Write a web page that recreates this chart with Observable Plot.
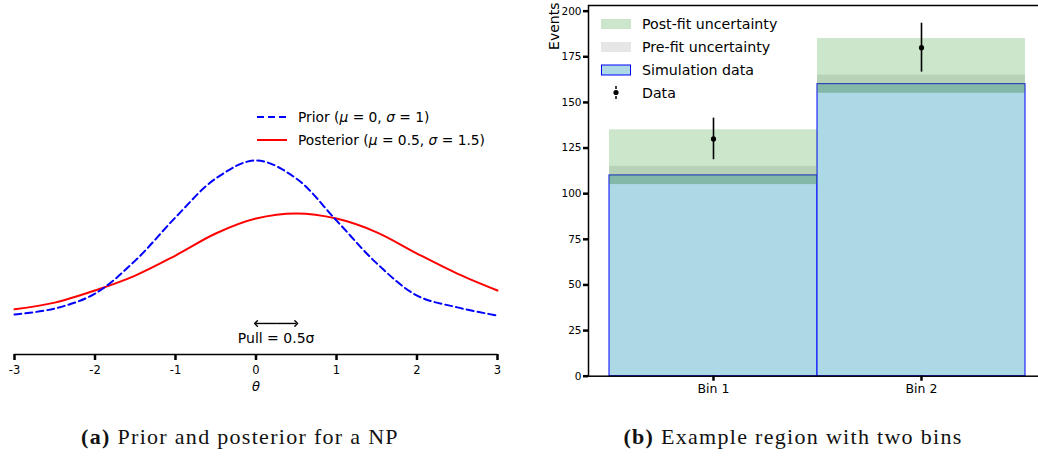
<!DOCTYPE html>
<html><head><meta charset="utf-8">
<script src="https://cdn.jsdelivr.net/npm/d3@7"></script>
<script src="https://cdn.jsdelivr.net/npm/@observablehq/plot@0.6"></script>
<style>
html,body{margin:0;padding:0;background:#fff;overflow:hidden;width:1038px;height:460px}
#fig{position:relative;width:1038px;height:460px;overflow:hidden}
.panel{position:absolute;top:0}
.leg{position:absolute;font-family:"DejaVu Sans",sans-serif;color:#000;white-space:nowrap;line-height:16px}
.leg svg{position:absolute;left:0;top:0;overflow:visible}
.cap{position:absolute;font-family:"Liberation Serif",serif;font-size:22px;letter-spacing:1.3px;color:#111;white-space:nowrap;line-height:22px;transform:translateX(-50%)}
</style></head>
<body><div id="fig"></div>
<script>
// ---- Panel (a) data ----
const theta = [-3, -2.5, -2, -1.5, -1, -0.5, 0, 0.5, 1, 1.5, 2, 2.5, 3];
const prior = [0.007, 0.022, 0.060, 0.144, 0.254, 0.353, 0.399, 0.353, 0.246, 0.137, 0.055, 0.025, 0.004];
const posterior = [0.020, 0.037, 0.068, 0.106, 0.157, 0.213, 0.251, 0.264, 0.251, 0.216, 0.162, 0.111, 0.068];
const thetaTicks = [-3, -2, -1, 0, 1, 2, 3];
const pullFrom = 0, pullTo = 0.5;
const pullLabel = "Pull = 0.5σ";
const priorLabel = "Prior";
const posteriorLabel = "Posterior";

// ---- Panel (b) data ----
const bins = ["Bin 1", "Bin 2"];
const simulation = [110, 160];
const prefitLow = [105, 155];
const prefitHigh = [115, 165];
const postfitLow = [105, 155];
const postfitHigh = [135, 185];
const observed = [130, 180];
const observedErr = [11.4, 13.4];
const eventTicks = [0, 25, 50, 75, 100, 125, 150, 175, 200];

const fig = document.getElementById("fig");
const sans = '"DejaVu Sans", sans-serif';

// ---------- Panel (a) ----------
const priorRows = theta.map((t, i) => ({theta: t, p: prior[i]}));
const postRows = theta.map((t, i) => ({theta: t, p: posterior[i]}));
const yAxisLevel = -0.095;
const pullMid = (pullFrom + pullTo) / 2;
const pullArrows = [{a: pullMid, b: pullFrom}, {a: pullMid, b: pullTo}];

const left = Plot.plot({
  width: 520, height: 400,
  marginLeft: 14, marginRight: 23, marginTop: 81, marginBottom: 46,
  x: {domain: [-3, 3]},
  y: {domain: [yAxisLevel, 0.6], axis: null},
  style: {fontFamily: sans, fontSize: "11px", color: "#000", background: "transparent"},
  marks: [
    Plot.ruleY([yAxisLevel], {stroke: "#000", strokeWidth: 1.5}),
    Plot.axisX({ticks: thetaTicks, tickFormat: d => String(d), tickSize: 6, strokeWidth: 2.5, tickPadding: 5, fontSize: 11.5, label: null}),
    Plot.text(["θ"], {x: [0], frameAnchor: "bottom", dy: 36, fontSize: 13, fontStyle: "italic"}),
    Plot.line(postRows, {x: "theta", y: "p", stroke: "red", strokeWidth: 2, curve: "catmull-rom"}),
    Plot.line(priorRows, {x: "theta", y: "p", stroke: "blue", strokeWidth: 2, strokeDasharray: "7,4", curve: "catmull-rom"}),
    Plot.link(pullArrows, {x1: "a", x2: "b", y1: () => -0.016, y2: () => -0.016, stroke: "#000", strokeWidth: 1.4, markerEnd: "arrow"}),
    Plot.text([pullLabel], {x: [pullMid], y: [-0.054], fontSize: 14, text: d => d})
  ]
});
left.classList.add("panel");
left.style.left = "0px";
fig.appendChild(left);

// left legend
const legA = document.createElement("div");
legA.className = "leg";
legA.style.fontSize = "13.8px";
legA.style.left = "257px"; legA.style.top = "108px";
legA.style.width = "260px"; legA.style.height = "40px";
legA.innerHTML = `
<svg width="32" height="40"><line x1="0" x2="30" y1="9" y2="9" stroke="blue" stroke-width="2" stroke-dasharray="7,4"/>
<line x1="0" x2="30" y1="32" y2="32" stroke="red" stroke-width="2"/></svg>
<div style="position:absolute;left:41px;top:1px">${priorLabel} (<i>μ</i> = 0, <i>σ</i> = 1)</div>
<div style="position:absolute;left:41px;top:24px">${posteriorLabel} (<i>μ</i> = 0.5, <i>σ</i> = 1.5)</div>`;
fig.appendChild(legA);

// ---------- Panel (b) ----------
const rows = bins.map((b, i) => ({
  bin: b, sim: simulation[i], preLow: prefitLow[i], preHigh: prefitHigh[i],
  postLow: postfitLow[i], postHigh: postfitHigh[i], obs: observed[i], err: observedErr[i]
}));

const right = Plot.plot({
  width: 516, height: 400,
  marginLeft: 58, marginRight: 0, marginTop: 5, marginBottom: 24.3,
  x: {type: "band", domain: bins, paddingInner: 0, paddingOuter: 0.1},
  y: {domain: [0, 203.1]},
  style: {fontFamily: sans, fontSize: "10px", color: "#000", background: "transparent"},
  marks: [
    Plot.barY(rows, {x: "bin", y1: 0, y2: "sim", fill: "lightblue", stroke: "blue", strokeWidth: 1, insetLeft: 0, insetRight: 0}),
    Plot.barY(rows, {x: "bin", y1: "preLow", y2: "preHigh", fill: "grey", fillOpacity: 0.2, insetLeft: 0, insetRight: 0}),
    Plot.barY(rows, {x: "bin", y1: "postLow", y2: "postHigh", fill: "green", fillOpacity: 0.2, insetLeft: 0, insetRight: 0}),
    Plot.ruleX(rows, {x: "bin", y1: d => d.obs - d.err, y2: d => d.obs + d.err, stroke: "#000", strokeWidth: 1.6}),
    Plot.dot(rows, {x: "bin", y: "obs", r: 2.6, fill: "#000", stroke: null}),
    Plot.frame({stroke: "#000", strokeWidth: 1.5}),
    Plot.axisY({ticks: eventTicks, tickSize: 5, strokeWidth: 2.5, tickPadding: 2, fontSize: 10.5, label: null}),
    Plot.axisX({tickSize: 5, strokeWidth: 2.5, tickPadding: 3, fontSize: 12.5, label: null}),
    Plot.text(["Events"], {frameAnchor: "top-left", dx: -39, dy: -3, rotate: -90, textAnchor: "end", fontSize: 14})
  ]
});
right.classList.add("panel");
right.style.left = "530px";
fig.appendChild(right);

// right legend
const legB = document.createElement("div");
legB.className = "leg";
legB.style.fontSize = "14.2px";
legB.style.left = "601px"; legB.style.top = "16px";
legB.style.width = "220px"; legB.style.height = "90px";
legB.innerHTML = `
<svg width="32" height="90">
<rect x="0" y="3" width="30" height="10" fill="green" fill-opacity="0.2"/>
<rect x="0" y="26" width="30" height="10" fill="grey" fill-opacity="0.2"/>
<rect x="0.5" y="49" width="29" height="10" fill="lightblue" stroke="blue" stroke-width="1"/>
<line x1="15" x2="15" y1="70" y2="83" stroke="#000" stroke-width="1.5" stroke-dasharray="3,2"/>
<circle cx="15" cy="76.5" r="2.6" fill="#000"/>
</svg>
<div style="position:absolute;left:41px;top:0px">Post-fit uncertainty</div>
<div style="position:absolute;left:41px;top:23px">Pre-fit uncertainty</div>
<div style="position:absolute;left:41px;top:46px">Simulation data</div>
<div style="position:absolute;left:41px;top:69px">Data</div>`;
fig.appendChild(legB);

// captions
const capA = document.createElement("div");
capA.className = "cap";
capA.style.left = "240px"; capA.style.top = "426px";
capA.innerHTML = "<b>(a)</b> Prior and posterior for a NP";
fig.appendChild(capA);
const capB = document.createElement("div");
capB.className = "cap";
capB.style.left = "793px"; capB.style.top = "426px";
capB.innerHTML = "<b>(b)</b> Example region with two bins";
fig.appendChild(capB);
</script>
</body></html>
